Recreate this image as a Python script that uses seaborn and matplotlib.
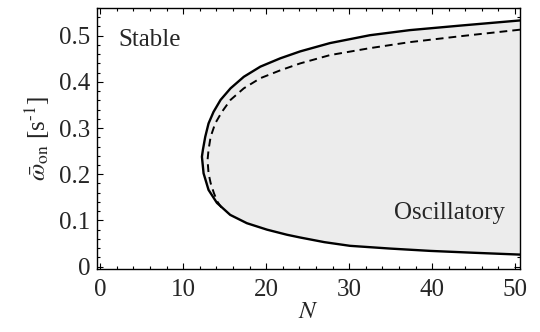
import numpy as np
import pandas as pd
import matplotlib
matplotlib.use("Agg")
import matplotlib.pyplot as plt
from matplotlib.ticker import MultipleLocator
import seaborn as sns

# Boundary of the oscillatory region (solid), traced top -> nose -> bottom
solid_N = [50.6, 43.5, 37.3, 32.5, 27.7, 24.1, 21.7, 19.3, 17.3, 15.7, 14.5,
           13.65, 13.05, 12.65, 12.37, 12.25, 12.45, 13.05, 14.06, 15.66,
           17.67, 20.1, 22.5, 24.1, 27.0, 30.1, 35.0, 39.8, 45.0, 50.6]
solid_w = [0.533, 0.522, 0.512, 0.501, 0.484, 0.466, 0.451, 0.433, 0.411,
           0.386, 0.361, 0.335, 0.310, 0.281, 0.253, 0.238, 0.202, 0.166,
           0.138, 0.112, 0.094, 0.080, 0.069, 0.063, 0.053, 0.045, 0.039,
           0.034, 0.030, 0.026]

# Approximate boundary (dashed)
dashed_N = [50.6, 43.5, 37.3, 32.5, 27.7, 24.1, 21.7, 19.3, 17.3, 15.7,
            14.66, 13.85, 13.3, 13.05, 12.93, 13.05, 13.3, 13.7, 14.1, 14.6]
dashed_w = [0.513, 0.499, 0.486, 0.473, 0.458, 0.440, 0.425, 0.408, 0.386,
            0.361, 0.335, 0.310, 0.281, 0.253, 0.231, 0.202, 0.181, 0.159,
            0.141, 0.128]

x_ticks = [0, 10, 20, 30, 40, 50]
y_ticks = [0, 0.1, 0.2, 0.3, 0.4, 0.5]
y_tick_labels = ["0", "0.1", "0.2", "0.3", "0.4", "0.5"]

sns.set_style("ticks")
plt.rcParams["font.family"] = ["Liberation Serif", "DejaVu Serif"]
plt.rcParams["mathtext.fontset"] = "stix"

solid = pd.DataFrame({"N": solid_N, "w": solid_w})
dashed = pd.DataFrame({"N": dashed_N, "w": dashed_w})

fig = plt.figure(figsize=(5.4, 3.32), dpi=100)
ax = fig.add_axes([0.1796, 0.19, 0.7834, 0.786])

ax.fill(solid["N"], solid["w"], color="#ececec", lw=0, zorder=1)
sns.lineplot(data=solid, x="N", y="w", sort=False, estimator=None,
             color="black", lw=1.7, ax=ax, zorder=3)
sns.lineplot(data=dashed, x="N", y="w", sort=False, estimator=None,
             color="black", lw=1.4, ax=ax, zorder=2)
ax.lines[-1].set_dashes((4, 2.6))
for ln in ax.lines:
    ln.set_solid_joinstyle("round")
    ln.set_dash_joinstyle("round")

ax.set_xlim(-0.4, 50.6)
ax.set_ylim(-0.005, 0.56)
ax.set_xticks(x_ticks)
ax.set_yticks(y_ticks)
ax.set_yticklabels(y_tick_labels)
ax.xaxis.set_minor_locator(MultipleLocator(2))
ax.yaxis.set_minor_locator(MultipleLocator(0.02))
ax.tick_params(which="both", direction="in", top=True, right=True,
               labelsize=18, width=0.8, color="black")
ax.tick_params(which="major", length=4)
ax.tick_params(which="minor", length=2.2)
ax.tick_params(axis="x", pad=7)
ax.tick_params(axis="y", pad=5)
for s in ax.spines.values():
    s.set_linewidth(1.0)
    s.set_color("black")

ax.set_xlabel("$N$", fontsize=18, labelpad=0)
ax.set_ylabel(r"$\bar{\omega}_{\rm on}$ [s$^{\text{-1}}$]", fontsize=18,
              labelpad=5)

ax.text(2.2, 0.49, "Stable", fontsize=18, ha="left", va="center")
ax.text(48.8, 0.117, "Oscillatory", fontsize=18, ha="right", va="center")

fig.savefig("out.png", dpi=100)
